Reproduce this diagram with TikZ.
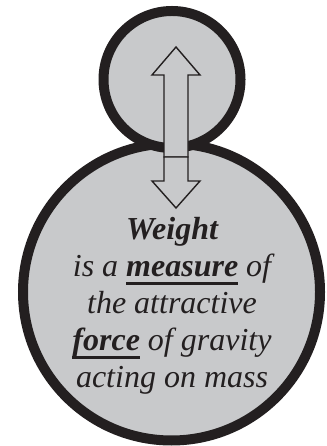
\documentclass[tikz,border=0pt]{standalone}
\usepackage{fontspec}
\setmainfont{Liberation Serif}
\usepackage{tikz}

\definecolor{discgrey}{RGB}{200,201,203}
\definecolor{ringblack}{RGB}{35,31,32}
\newsavebox\ulbox
\newcommand\ulword[1]{\sbox\ulbox{#1}\rlap{\rule[-8.5pt]{\wd\ulbox}{3pt}}\usebox\ulbox}

\begin{document}
\begin{tikzpicture}[x=1pt,y=1pt,
        ring/.style={line width=10pt,draw=ringblack,fill=discgrey},
        blockarrow/.style={draw=ringblack,fill=discgrey,line width=1.4pt,line join=miter}]

    \useasboundingbox (0,0) rectangle (326,446);

    \draw[ring] (171.5,154) circle (148.5);
    \draw[ring] (172,366.5) circle (68.5);

    \draw[blockarrow] (164,289) -- (164,371) -- (152,371) -- (176,399)
        -- (200,371) -- (188,371) -- (188,289) -- cycle;
    \draw[blockarrow] (164,289) -- (164,265) -- (152,265) -- (176,238)
        -- (200,265) -- (188,265) -- (188,289) -- cycle;

    \node[align=center,inner sep=0pt,text=ringblack,
          font=\fontsize{32}{37}\selectfont\itshape] (def) at (172,140)
        {\textbf{Weight}\\
         is a \ulword{\textbf{measure}} of\\
         the attractive\\
         \ulword{\textbf{force}} of gravity\\
         acting on mass};
\end{tikzpicture}
\end{document}
